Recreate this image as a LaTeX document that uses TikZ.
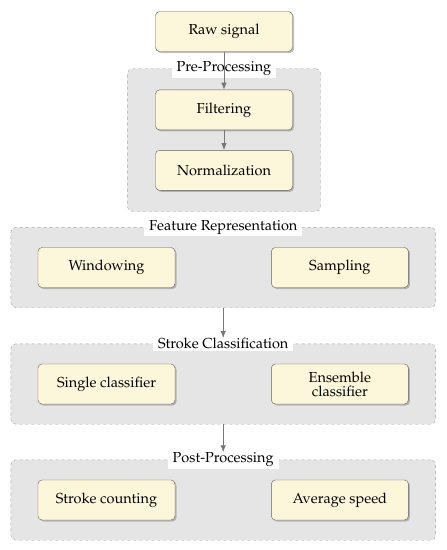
\documentclass[tikz,border=0pt]{standalone}
\usepackage[T1]{fontenc}
\usepackage{mathpazo}
\usetikzlibrary{positioning}
\usetikzlibrary{fit}
\usetikzlibrary{backgrounds}
\usetikzlibrary{shadows}
\usetikzlibrary{arrows.meta}
\definecolor{boxfill}{RGB}{252,247,218}
\definecolor{boxline}{RGB}{95,95,95}
\definecolor{groupfill}{RGB}{229,229,229}
\definecolor{groupline}{RGB}{165,165,165}
\definecolor{arrowgray}{RGB}{120,120,120}

\begin{document}
\begin{tikzpicture}[
    x=1pt, y=1pt,
    node distance=38pt and 96pt,
    font=\fontsize{14.5}{16}\selectfont,
    box/.style={rectangle, draw=boxline, fill=boxfill, rounded corners=4pt, minimum height=40pt, minimum width=137pt, align=center, drop shadow={shadow xshift=1.5pt, shadow yshift=-1.5pt, fill=black!50}},
    group/.style={rectangle, draw=groupline, dashed, fill=groupfill, rounded corners=5pt, inner xsep=27pt, inner ysep=20pt},
    grouplabel/.style={fill=white, inner xsep=5pt, inner ysep=2pt},
    flow/.style={-{Latex[length=7pt,width=5.5pt]}, draw=arrowgray, fill=arrowgray, line width=0.8pt},
    >=latex
]
    \useasboundingbox (0,0) rectangle (447,-550);

    \node[box] (raw) at (224,-31.5) {Raw signal};
    \node[box, below=of raw] (filt) {Filtering};
    \node[box, below=20pt of filt] (norm) {Normalization};

    \node[box] (win) at (106.5,-267.5) {Windowing};
    \node[box, right=of win] (samp) {Sampling};

    \node[box] (single) at (106.5,-384) {Single classifier};
    \node[box, right=of single] (ens) {Ensemble\\[-2pt]classifier};

    \node[box] (count) at (106.5,-500) {Stroke counting};
    \node[box, right=of count] (speed) {Average speed};

    \begin{scope}[on background layer]
        \node[group, inner xsep=28pt, inner ysep=21pt, fit=(filt) (norm)] (pre) {};
        \node[group, fit=(win) (samp)] (feat) {};
        \node[group, fit=(single) (ens)] (cls) {};
        \node[group, fit=(count) (speed)] (post) {};
    \end{scope}

    \node[grouplabel] (prelab) at (pre.north) {Pre-Processing};
    \node[grouplabel] (featlab) at (feat.north) {Feature Representation};
    \node[grouplabel] (clslab) at (cls.north) {Stroke Classification};
    \node[grouplabel] (postlab) at (post.north) {Post-Processing};

    \draw[flow] (raw) -- (filt);
    \draw[flow] (filt) -- (norm);
    \draw[flow] (feat.south) -- ([yshift=-2pt]clslab.north);
    \draw[flow] (cls.south) -- ([yshift=-2pt]postlab.north);
\end{tikzpicture}
\end{document}
